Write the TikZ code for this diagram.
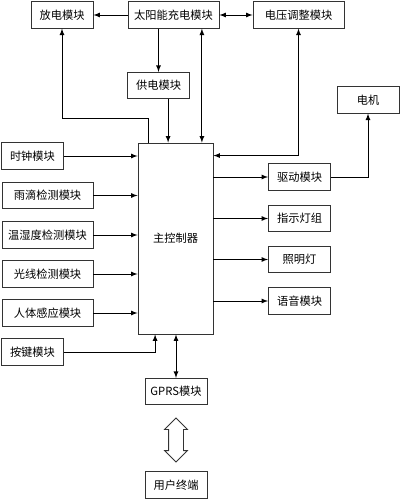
\documentclass[tikz,border=0pt]{standalone}
\usepackage{fontspec}
\setmainfont{Noto Sans CJK SC}
\usepackage{tikz}
\usetikzlibrary{arrows, shapes, shapes.arrows, positioning, calc}
\tikzstyle{kuai} = [rectangle, minimum width = 1.55cm, minimum height = 0.66cm, text centered, draw = black!80, inner sep = 0pt, font = \fontsize{8}{9}\selectfont]

\begin{document}
\begin{tikzpicture}[x = 0.025cm, y = -0.025cm, >=latex, line width = 0.6pt]
\useasboundingbox (0,0) rectangle (400,500);
\node (fangdian) [kuai] at (62,15) {放电模块};
\node (chongdian) [kuai, minimum width = 2.275cm] at (173.5,15) {太阳能充电模块};
\node (tiaozheng) [kuai, minimum width = 2.275cm] at (298.5,15) {电压调整模块};
\node (gongdian) [kuai] at (158.5,85.5) {供电模块};
\node (dianji) [kuai] at (368,100) {电机};
\node (zhukong) [kuai, minimum width = 1.875cm, minimum height = 4.775cm] at (175.5,238.5) {主控制器};
\node (shizhong) [kuai] at (32.5,156) {时钟模块};
\node (yudi) [kuai, minimum width = 2.275cm] at (47.5,195.5) {雨滴检测模块};
\node (wenshidu) [kuai, minimum width = 2.275cm] at (47.5,235) {温湿度检测模块};
\node (guangxian) [kuai, minimum width = 2.275cm] at (47.5,274) {光线检测模块};
\node (renti) [kuai, minimum width = 2.275cm] at (47.5,313) {人体感应模块};
\node (anjian) [kuai] at (32.5,352) {按键模块};
\node (qudong) [kuai] at (299.5,177) {驱动模块};
\node (zhishi) [kuai] at (299.5,218.5) {指示灯组};
\node (zhaoming) [kuai] at (299.5,259.5) {照明灯};
\node (yuyin) [kuai] at (299.5,301) {语音模块};
\node (gprs) [kuai] at (176,391.5) {GPRS模块};
\node (yonghu) [kuai] at (176,485) {用户终端};
\node (tongxin) [double arrow, draw = black!80, rotate = 90, minimum height = 1.1cm, minimum width = 0.55cm, inner sep = 0pt, inner ysep = 0.175cm, double arrow head extend = 0.1cm] at (176,440) {};
\draw[->] (chongdian) -- (fangdian);
\draw[<->] (chongdian) -- (tiaozheng);
\draw[->] (chongdian.south -| gongdian) -- (gongdian);
\draw[->] ([xshift = 0.24cm]gongdian.south) -- ([xshift = 0.24cm]gongdian.south |- zhukong.north);
\draw[<->] ([xshift = 0.71cm]chongdian.south) -- ([xshift = 0.71cm]chongdian.south |- zhukong.north);
\draw[->] ([xshift = -0.665cm]zhukong.north) |- ([yshift = -2.25cm]fangdian.south) -- (fangdian.south);
\draw[<->] ([yshift = -0.325cm]zhukong.north east) -| (tiaozheng.south);
\draw[->] (shizhong) -- (shizhong -| zhukong.west);
\draw[->] (yudi) -- (yudi -| zhukong.west);
\draw[->] (wenshidu) -- (wenshidu -| zhukong.west);
\draw[->] (guangxian) -- (guangxian -| zhukong.west);
\draw[->] (renti) -- (renti -| zhukong.west);
\draw[->] (anjian) -| ([xshift = -0.51cm]zhukong.south);
\draw[<->] (zhukong.south -| gprs) -- (gprs);
\draw[->] (zhukong.east |- qudong) -- (qudong);
\draw[->] (zhukong.east |- zhishi) -- (zhishi);
\draw[->] (zhukong.east |- zhaoming) -- (zhaoming);
\draw[->] (zhukong.east |- yuyin) -- (yuyin);
\draw[->] (qudong) -| (dianji);
\end{tikzpicture}
\end{document}
